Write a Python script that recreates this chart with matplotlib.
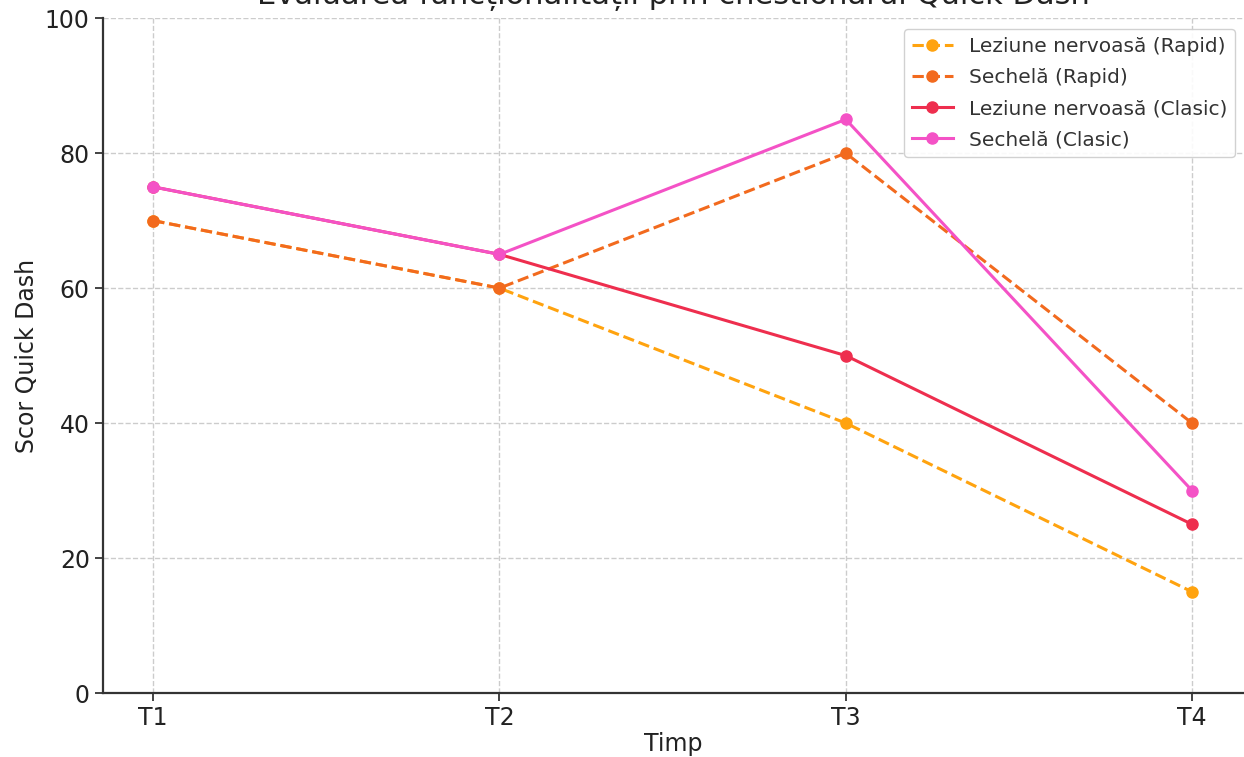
import matplotlib
matplotlib.use("Agg")
import matplotlib.pyplot as plt

time_points = ["T1", "T2", "T3", "T4"]
leziune_rapid = [70, 60, 40, 15]
sechela_rapid = [70, 60, 80, 40]
leziune_clasic = [75, 65, 50, 25]
sechela_clasic = [75, 65, 85, 30]

plt.rcParams['font.family'] = ['DejaVu Sans']
fig = plt.figure(figsize=(12.44, 7.57), dpi=100)
ax = fig.add_axes([0.0828, 0.0845, 0.9172, 0.8915])

x = range(len(time_points))
ax.plot(x, leziune_rapid, '--o', color='#FFA30F', lw=2.2, ms=8, label='Leziune nervoasă (Rapid)')
ax.plot(x, sechela_rapid, '--o', color='#F26A1E', lw=2.2, ms=8, label='Sechelă (Rapid)')
ax.plot(x, leziune_clasic, '-o', color='#EE2E4E', lw=2.2, ms=8, label='Leziune nervoasă (Clasic)')
ax.plot(x, sechela_clasic, '-o', color='#F452C6', lw=2.2, ms=8, label='Sechelă (Clasic)')

ax.set_xticks(list(x))
ax.set_xticklabels(time_points)
ax.set_ylim(0, 100)
ax.set_xlim(-0.145, 3.15)
ax.tick_params(labelsize=17, colors='#222222', length=6, width=1.2)
ax.set_xlabel('Timp', fontsize=17, color='#222222', labelpad=1)
ax.set_ylabel('Scor Quick Dash', fontsize=17, color='#222222')
ax.set_title('Evaluarea funcționalității prin chestionarul Quick Dash', fontsize=22, color='#222222', pad=10)
ax.grid(True, linestyle='--', color='#cccccc', lw=1)
for s in ['top', 'right']:
    ax.spines[s].set_visible(False)
for s in ['left', 'bottom']:
    ax.spines[s].set_linewidth(1.6)
    ax.spines[s].set_color('#333333')
leg = ax.legend(loc='upper right', fontsize=14.5, frameon=True, framealpha=0.9,
                bbox_to_anchor=(1.001, 0.999), handlelength=2.0, borderpad=0.4, labelspacing=0.6)
for t in leg.get_texts():
    t.set_color('#333333')

fig.savefig('out.png', dpi=100)
